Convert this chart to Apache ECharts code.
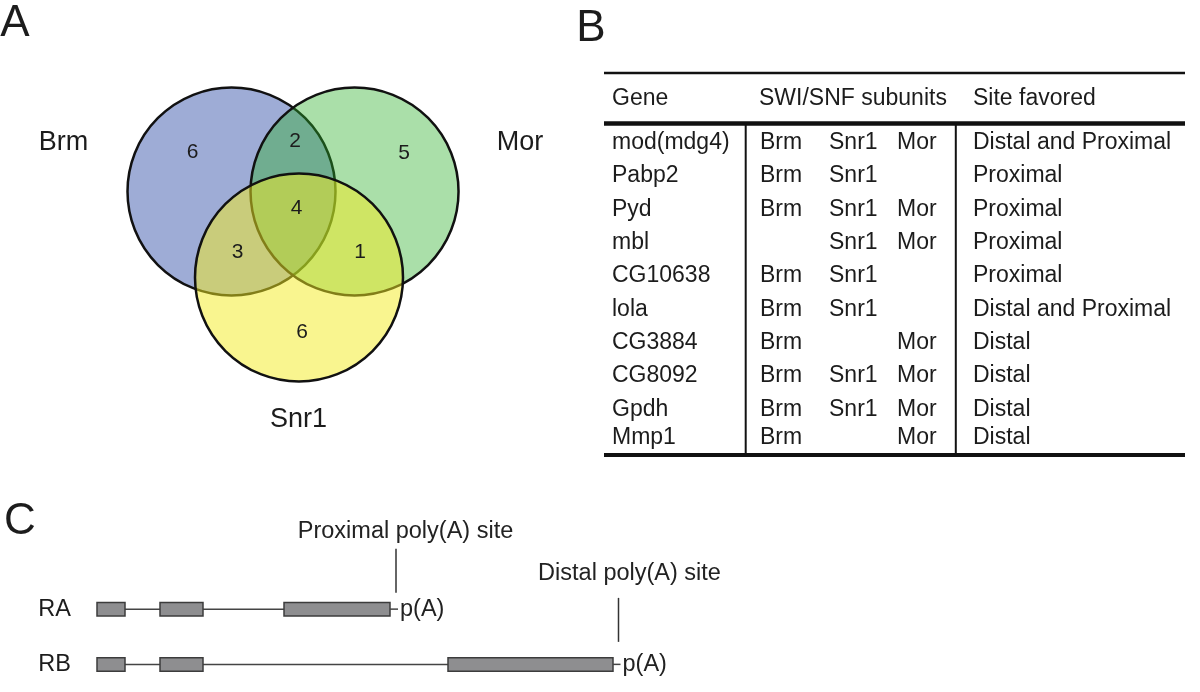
<!DOCTYPE html>
<html>
<head>
<meta charset="utf-8">
<script src="https://cdn.jsdelivr.net/npm/echarts@6/dist/echarts.min.js"></script>
<style>
html,body{margin:0;padding:0;background:#ffffff;}
#chart{width:1200px;height:692px;}
</style>
</head>
<body>
<div id="chart"></div>
<script>
// ================= DATA =================
// Panel A: Venn diagram
const vennSets = ['Brm', 'Mor', 'Snr1'];
const vennRegions = ['Brm only', 'Brm & Mor', 'Mor only', 'Brm & Mor & Snr1', 'Brm & Snr1', 'Mor & Snr1', 'Snr1 only'];
const vennCounts = [6, 2, 5, 4, 3, 1, 6];

// Panel B: table
const tableHeaders = ['Gene', 'SWI/SNF subunits', 'Site favored'];
const subunitNames = ['Brm', 'Snr1', 'Mor'];
const genes = ['mod(mdg4)', 'Pabp2', 'Pyd', 'mbl', 'CG10638', 'lola', 'CG3884', 'CG8092', 'Gpdh', 'Mmp1'];
const brmBound  = [1, 1, 1, 0, 1, 1, 1, 1, 1, 1];
const snr1Bound = [1, 1, 1, 1, 1, 1, 0, 1, 1, 0];
const morBound  = [1, 0, 1, 1, 0, 0, 1, 1, 1, 1];
const siteFavored = ['Distal and Proximal', 'Proximal', 'Proximal', 'Proximal', 'Proximal',
                     'Distal and Proximal', 'Distal', 'Distal', 'Distal', 'Distal'];

// Panel C: transcript isoforms (arbitrary genomic units)
const isoforms = ['RA', 'RB'];
const raExons = [[0, 280], [630, 1060], [1870, 2930]];
const rbExons = [[0, 280], [630, 1060], [3510, 5160]];
const polyASites = [2990, 5215];
const polyALabels = ['Proximal poly(A) site', 'Distal poly(A) site'];
const polyAMark = 'p(A)';

// ================= LAYOUT / STYLE =================
const FONT = '"Liberation Sans", Arial, Helvetica, sans-serif';
const TXT = '#1c1c1c';

// Venn layout in units of the circle radius
const vennRadius = 1;
const vennCenters = [[-0.649, 0.827], [0.534, 0.827], [0, 0]];
const vennFills = ['rgb(158,172,214)', 'rgba(42,175,40,0.4)', 'rgba(243,235,31,0.5)'];
const vennSetLabelPos = [[-2.264, 1.298], [2.125, 1.293], [-0.005, -1.37]];
const vennRegionLabelPos = [[-1.022, 1.207], [-0.038, 1.306], [1.010, 1.197], [-0.022, 0.668],
                            [-0.591, 0.245], [0.587, 0.245], [0.029, -0.524]];

// Table layout (table-local units)
const colGeneX = 8, colSiteX = 369;
const subunitColX = [156, 225, 293];
const headerX = [8, 155, 369];
const headerY = 26;
const rowY = [69.7, 103, 136.3, 169.7, 203, 236.3, 269.7, 303, 336.3, 364.7];
const tableRules = [
  [0, 0, 581, 0, 2.5],
  [0, 50.4, 581, 50.4, 4.5],
  [0, 382, 581, 382, 4],
  [141.7, 50.4, 141.7, 382, 2],
  [351.8, 50.4, 351.8, 382, 2]
];

// Gene model layout (px offsets)
const exonHeight = 13.5;
const calloutLayout = [
  {top: 60.5, bottom: 16.5, text: 77.5, dx: 9.5},
  {top: 66.5, bottom: 22.5, text: 90.5, dx: 11}
];

// ================= BUILD =================
const exonSets = [raExons, rbExons];
const bound = [brmBound, snr1Bound, morBound];

const tableCells = [];
tableHeaders.forEach((h, i) => tableCells.push({x: headerX[i], y: headerY, text: h}));
genes.forEach((g, r) => {
  tableCells.push({x: colGeneX, y: rowY[r], text: g});
  subunitNames.forEach((s, k) => {
    if (bound[k][r]) tableCells.push({x: subunitColX[k], y: rowY[r], text: s});
  });
  tableCells.push({x: colSiteX, y: rowY[r], text: siteFavored[r]});
});

const vennTextItems = [];
vennSets.forEach((s, i) => vennTextItems.push({pos: vennSetLabelPos[i], text: s, size: 27}));
vennCounts.forEach((c, i) => vennTextItems.push({pos: vennRegionLabelPos[i], text: String(c), size: 21}));

const exonData = [];
exonSets.forEach((ex, i) => ex.forEach(e => exonData.push([e[0], e[1], i])));

function textEl(x, y, text, size, align, color) {
  return {
    type: 'text', x: x, y: y, z2: 100,
    style: {text: text, fontSize: size, fontFamily: FONT, fill: color || TXT,
            align: align || 'left', verticalAlign: 'middle'}
  };
}

const option = {
  animation: false,
  backgroundColor: '#ffffff',
  graphic: [
    {type: 'text', x: 15, y: 24, style: {text: 'A', fontSize: 44, fontFamily: FONT, fill: TXT, align: 'center', verticalAlign: 'middle'}},
    {type: 'text', x: 591, y: 29, style: {text: 'B', fontSize: 44, fontFamily: FONT, fill: TXT, align: 'center', verticalAlign: 'middle'}},
    {type: 'text', x: 20, y: 522, style: {text: 'C', fontSize: 44, fontFamily: FONT, fill: TXT, align: 'center', verticalAlign: 'middle'}}
  ],
  grid: [
    {left: 39, top: 17.5, width: 520, height: 416},
    {left: 604, top: 73, width: 581, height: 382},
    {left: 97, top: 581.5, width: 1000, height: 120}
  ],
  xAxis: [
    {gridIndex: 0, type: 'value', min: -2.5, max: 2.5, show: false},
    {gridIndex: 1, type: 'value', min: 0, max: 581, show: false},
    {gridIndex: 2, type: 'value', min: 0, max: 10000, show: false}
  ],
  yAxis: [
    {gridIndex: 0, type: 'value', min: -1.5, max: 2.5, show: false},
    {gridIndex: 1, type: 'value', min: 0, max: 382, inverse: true, show: false},
    {gridIndex: 2, type: 'category', data: isoforms, inverse: true,
     axisLine: {show: false}, axisTick: {show: false}, splitLine: {show: false},
     axisLabel: {fontSize: 23.5, fontFamily: FONT, color: TXT, margin: 26}}
  ],
  series: [
    // Venn circles
    {
      type: 'custom', xAxisIndex: 0, yAxisIndex: 0, clip: false, z: 2,
      data: vennCenters.map(c => [c[0], c[1]]),
      renderItem: function (params, api) {
        const c = api.coord([api.value(0), api.value(1)]);
        const r = api.size([vennRadius, 0])[0];
        return {type: 'circle', z2: params.dataIndex,
                shape: {cx: c[0], cy: c[1], r: r},
                style: {fill: vennFills[params.dataIndex], stroke: '#111111', lineWidth: 2.5}};
      }
    },
    // Venn texts
    {
      type: 'custom', xAxisIndex: 0, yAxisIndex: 0, clip: false, z: 5,
      data: vennTextItems.map(t => [t.pos[0], t.pos[1]]),
      renderItem: function (params, api) {
        const t = vennTextItems[params.dataIndex];
        const c = api.coord([api.value(0), api.value(1)]);
        return textEl(c[0], c[1], t.text, t.size, 'center');
      }
    },
    // Table rules
    {
      type: 'custom', xAxisIndex: 1, yAxisIndex: 1, clip: false,
      data: tableRules.map(r => [r[0], r[1], r[2], r[3]]),
      renderItem: function (params, api) {
        const p1 = api.coord([api.value(0), api.value(1)]);
        const p2 = api.coord([api.value(2), api.value(3)]);
        return {type: 'line', shape: {x1: p1[0], y1: p1[1], x2: p2[0], y2: p2[1]},
                style: {stroke: '#111111', lineWidth: tableRules[params.dataIndex][4]}};
      }
    },
    // Table texts
    {
      type: 'custom', xAxisIndex: 1, yAxisIndex: 1, clip: false, z: 5,
      data: tableCells.map(c => [c.x, c.y]),
      renderItem: function (params, api) {
        const c = api.coord([api.value(0), api.value(1)]);
        return textEl(c[0], c[1], tableCells[params.dataIndex].text, 23, 'left');
      }
    },
    // Introns (backbone lines)
    {
      type: 'custom', xAxisIndex: 2, yAxisIndex: 2, clip: false, z: 2,
      data: exonSets.map((ex, i) => [ex[0][0], ex[ex.length - 1][1], i]),
      renderItem: function (params, api) {
        const p1 = api.coord([api.value(0), api.value(2)]);
        const p2 = api.coord([api.value(1), api.value(2)]);
        return {type: 'line', shape: {x1: p1[0], y1: p1[1], x2: p2[0], y2: p2[1]},
                style: {stroke: '#444444', lineWidth: 1.5}};
      }
    },
    // Exons
    {
      type: 'custom', xAxisIndex: 2, yAxisIndex: 2, clip: false, z: 3,
      data: exonData,
      renderItem: function (params, api) {
        const p1 = api.coord([api.value(0), api.value(2)]);
        const p2 = api.coord([api.value(1), api.value(2)]);
        return {type: 'rect',
                shape: {x: p1[0], y: p1[1] - exonHeight / 2, width: p2[0] - p1[0], height: exonHeight},
                style: {fill: '#8e8e90', stroke: '#3c3c3c', lineWidth: 1.5}};
      }
    },
    // Poly(A) sites: connector, p(A) mark, callout line and label
    {
      type: 'custom', xAxisIndex: 2, yAxisIndex: 2, clip: false, z: 4,
      data: exonSets.map((ex, i) => [ex[ex.length - 1][1], polyASites[i], i]),
      renderItem: function (params, api) {
        const i = params.dataIndex;
        const L = calloutLayout[i];
        const pe = api.coord([api.value(0), api.value(2)]);
        const ps = api.coord([api.value(1), api.value(2)]);
        return {type: 'group', children: [
          {type: 'line', shape: {x1: pe[0], y1: pe[1], x2: ps[0] + 2, y2: ps[1]},
           style: {stroke: '#444444', lineWidth: 1.5}},
          textEl(ps[0] + 4, ps[1], polyAMark, 23.5, 'left', '#222222'),
          {type: 'line', shape: {x1: ps[0], y1: ps[1] - L.top, x2: ps[0], y2: ps[1] - L.bottom},
           style: {stroke: '#333333', lineWidth: 1.5}},
          textEl(ps[0] + L.dx, ps[1] - L.text, polyALabels[i], 23.5, 'center', '#222222')
        ]};
      }
    }
  ]
};

const chart = echarts.init(document.getElementById('chart'), null, {renderer: 'canvas'});
chart.setOption(option);
</script>
</body>
</html>
